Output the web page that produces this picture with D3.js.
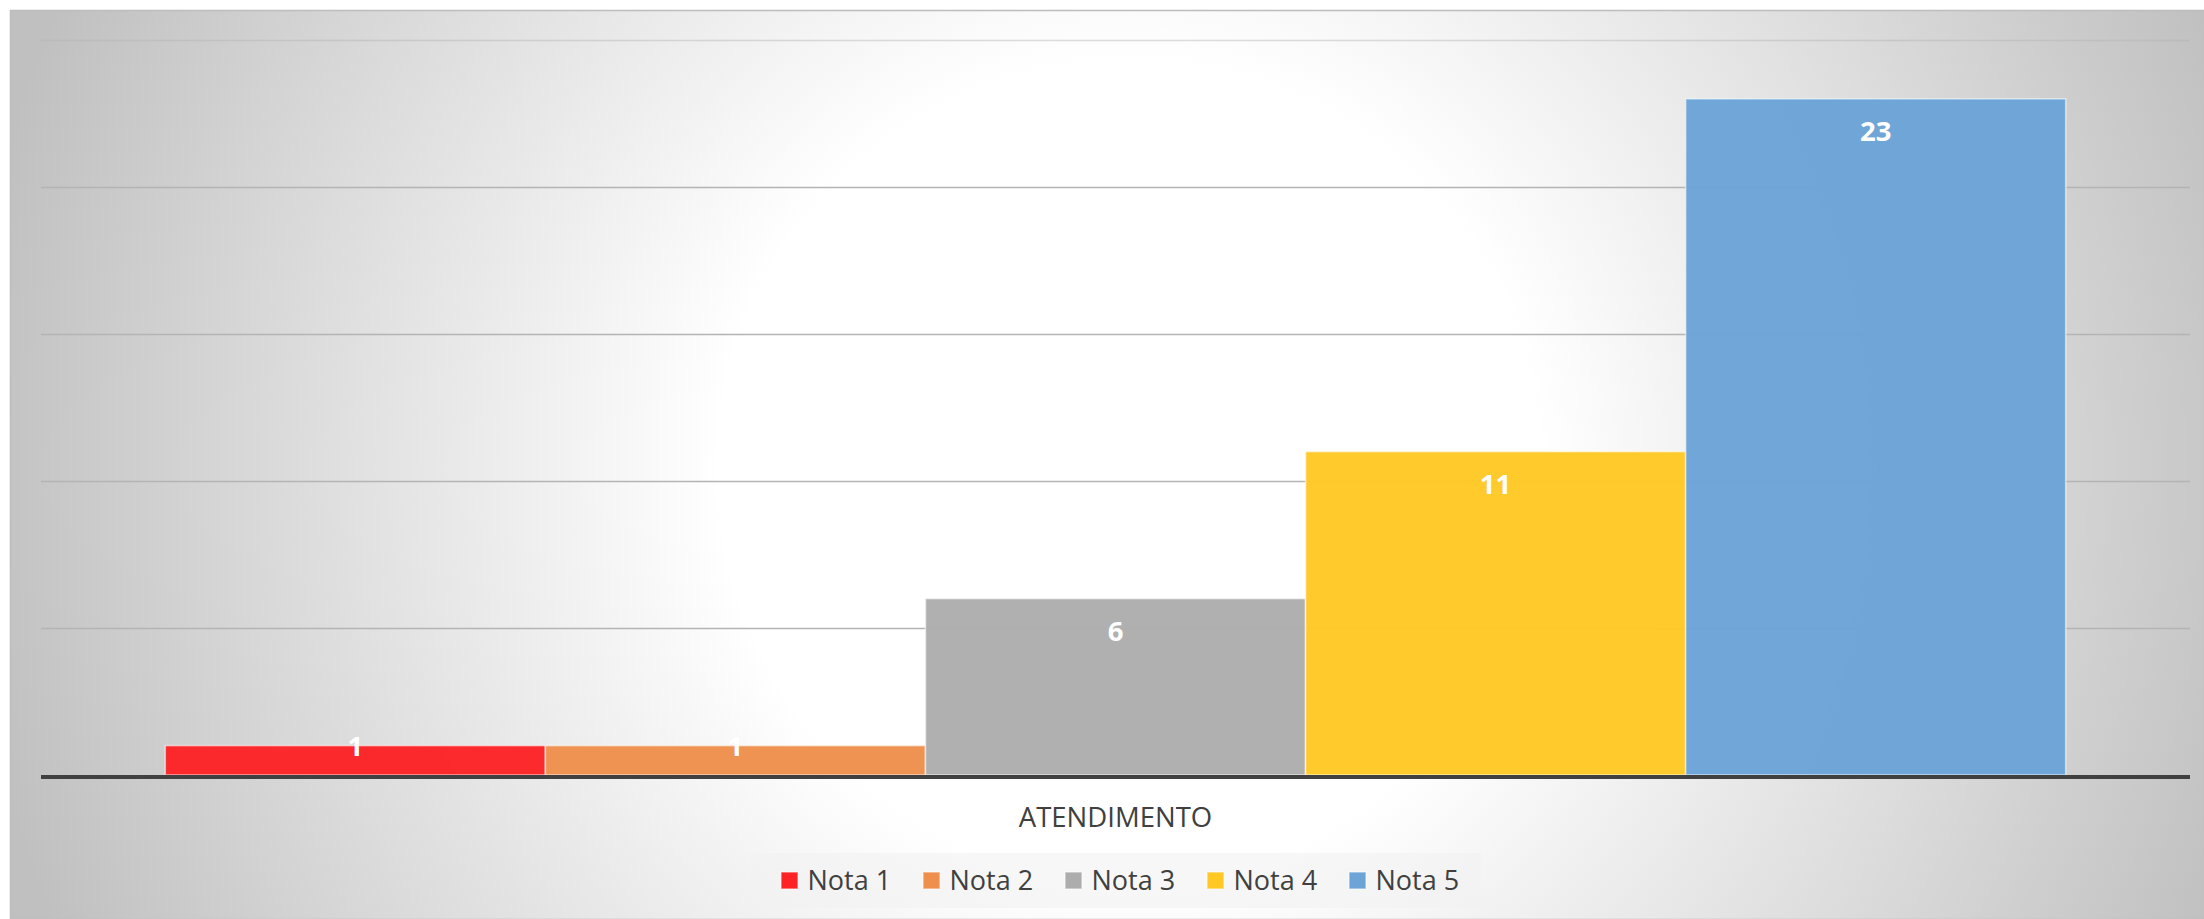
<!DOCTYPE html>
<html><head><meta charset="utf-8">
<script src="https://cdn.jsdelivr.net/npm/d3@7"></script>
<style>html,body{margin:0;padding:0;background:#fff;overflow:hidden}</style>
</head><body>
<svg id="c" width="2204" height="919"></svg>
<script>
// ---- data ----
const categories = ["ATENDIMENTO"];
const seriesNames = ["Nota 1", "Nota 2", "Nota 3", "Nota 4", "Nota 5"];
const seriesValues = [1, 1, 6, 11, 23];
const seriesColors = ["#FC2226", "#EE8F4D", "#ADADAD", "#FFC824", "#6CA4D7"];
const yTicks = [0, 5, 10, 15, 20, 25];

// ---- layout ----
const W = 2204, H = 919;
const plot = {left: 41, right: 2190, top: 40, bottom: 775};
const svg = d3.select("#c");

// background radial gradient
const defs = svg.append("defs");
const rg = defs.append("radialGradient").attr("id", "bg")
  .attr("gradientUnits", "userSpaceOnUse")
  .attr("cx", 1130).attr("cy", 470).attr("r", 1170);
rg.append("stop").attr("offset", 0).attr("stop-color", "#ffffff");
rg.append("stop").attr("offset", 0.35).attr("stop-color", "#ffffff");
rg.append("stop").attr("offset", 1).attr("stop-color", "#c0c0c0");

svg.append("rect").attr("x", 10.5).attr("y", 10.5).attr("width", W - 10).attr("height", H - 10)
  .attr("fill", "url(#bg)").attr("stroke", "#bdbdbd").attr("stroke-width", 1.5);

// scales
const x0 = d3.scaleBand().domain(categories).range([plot.left, plot.right])
  .paddingInner(0).paddingOuter(0.0654);
const x1 = d3.scaleBand().domain(seriesNames).range([0, x0.bandwidth()]).padding(0);
const y = d3.scaleLinear().domain([0, 25]).range([plot.bottom, plot.top]);

// gridlines
const grid = svg.append("g").attr("transform", `translate(${plot.left},0)`)
  .call(d3.axisLeft(y).tickValues(yTicks.filter(d => d > 0))
    .tickSize(-(plot.right - plot.left)).tickFormat(""));
grid.select(".domain").remove();
grid.selectAll(".tick line").attr("stroke", "#b4b4b4").attr("stroke-width", 1.5)
  .attr("stroke-opacity", d => d === 25 ? 0.45 : 1);

// bars
const data = seriesNames.map((s, i) => ({cat: categories[0], name: s, value: seriesValues[i], color: seriesColors[i]}));
const g = svg.append("g");
g.selectAll("rect.bar").data(data).join("rect").attr("class", "bar")
  .attr("x", d => x0(d.cat) + x1(d.name))
  .attr("y", d => y(d.value))
  .attr("width", x1.bandwidth())
  .attr("height", d => y(0) - y(d.value))
  .attr("fill", d => d.color).attr("fill-opacity", 0.97)
  .attr("stroke", "rgba(255,255,255,0.55)").attr("stroke-width", 1.6);

// value labels
g.selectAll("text.lbl").data(data).join("text").attr("class", "lbl")
  .attr("x", d => x0(d.cat) + x1(d.name) + x1.bandwidth() / 2)
  .attr("y", d => (y(0) - y(d.value)) > 60 ? y(d.value) + 42 : y(d.value) + 10.5)
  .attr("text-anchor", "middle")
  .attr("font-family", "'Open Sans', sans-serif").attr("font-weight", 700)
  .attr("font-size", 27.5).attr("fill", "#ffffff")
  .text(d => d.value);

// x axis baseline
const xAxis = svg.append("g").attr("transform", `translate(0,${plot.bottom + 2})`)
  .call(d3.axisBottom(x0).tickSize(0).tickFormat(""));
xAxis.select(".domain").attr("stroke", "#404040").attr("stroke-width", 4)
  .attr("d", `M${plot.left},0H${plot.right}`);

// category label
svg.append("text")
  .attr("x", x0(categories[0]) + x0.bandwidth() / 2)
  .attr("y", 827)
  .attr("text-anchor", "middle")
  .attr("font-family", "'Open Sans', sans-serif").attr("font-size", 27.5)
  .attr("fill", "#404040")
  .text(categories[0]);

// legend
const lg = svg.append("g");
lg.append("rect").attr("x", 750).attr("y", 853).attr("width", 731).attr("height", 55)
  .attr("fill", "#f2f2f2").attr("fill-opacity", 0.6);
const items = lg.selectAll("g.item").data(data).join("g").attr("class", "item")
  .attr("transform", (d, i) => `translate(${781 + i * 142},0)`);
items.append("rect").attr("x", 0).attr("y", 872).attr("width", 17).attr("height", 17)
  .attr("fill", d => d.color).attr("stroke", "rgba(255,255,255,0.5)").attr("stroke-width", 1.5);
items.append("text").attr("x", 26.5).attr("y", 890)
  .attr("font-family", "'Open Sans', sans-serif").attr("font-size", 27)
  .attr("fill", "#404040").text(d => d.name);
</script>
</body></html>
